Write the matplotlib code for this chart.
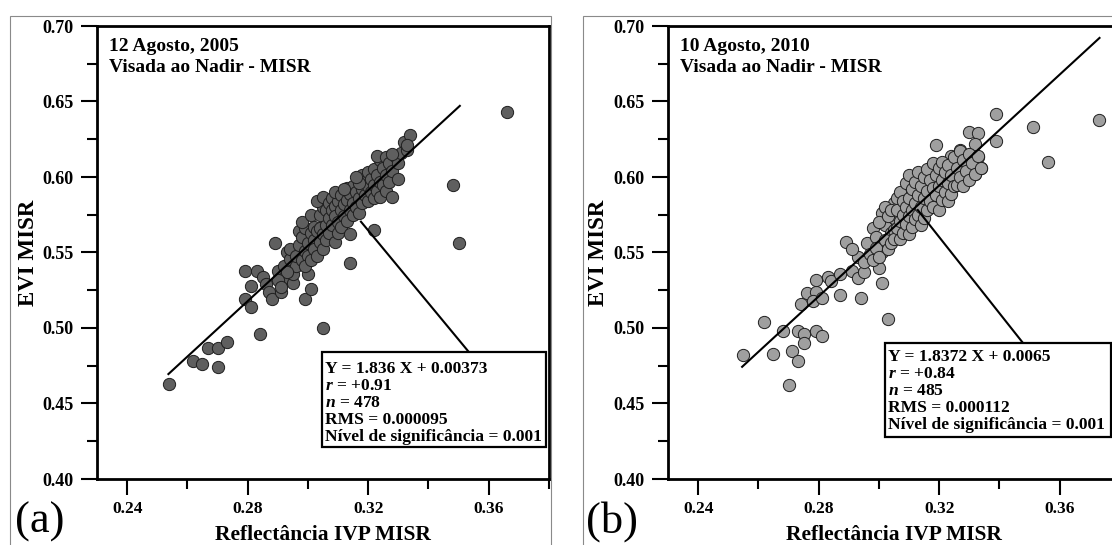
import matplotlib.pyplot as plt
from matplotlib.patches import Rectangle

W, H = 1112, 545

# (a) 12 Agosto 2005
refl_a = [0.254, 0.262, 0.265, 0.267, 0.270, 0.270, 0.273, 0.284, 0.279, 0.283,
          0.281, 0.279, 0.281, 0.285, 0.286, 0.287, 0.288, 0.289, 0.305, 0.314,
          0.322, 0.348, 0.350, 0.366, 0.299, 0.301, 0.300,
          0.290, 0.291, 0.291, 0.292, 0.293, 0.292, 0.294, 0.295, 0.295, 0.294,
          0.296, 0.296, 0.293, 0.290, 0.291,
          0.297, 0.297, 0.298, 0.298, 0.299, 0.299, 0.300, 0.300, 0.299, 0.301,
          0.301, 0.302, 0.298, 0.301,
          0.302, 0.302, 0.303, 0.303, 0.304, 0.304, 0.305, 0.305, 0.306, 0.306,
          0.304, 0.305, 0.303, 0.305,
          0.306, 0.307, 0.307, 0.307, 0.308, 0.308, 0.308, 0.309, 0.309, 0.309,
          0.310, 0.310, 0.310, 0.309,
          0.311, 0.311, 0.311, 0.312, 0.312, 0.313, 0.313, 0.313, 0.314, 0.314,
          0.314, 0.315, 0.315, 0.315, 0.312,
          0.316, 0.316, 0.317, 0.317, 0.318, 0.318, 0.318, 0.319, 0.319, 0.320,
          0.320, 0.320, 0.317, 0.316,
          0.321, 0.321, 0.322, 0.322, 0.322, 0.323, 0.323, 0.324, 0.324, 0.324,
          0.325, 0.325, 0.323,
          0.326, 0.326, 0.326, 0.327, 0.327, 0.328, 0.328, 0.329, 0.330, 0.330,
          0.331, 0.328,
          0.332, 0.333, 0.334, 0.333]
evi_a = [0.463, 0.478, 0.476, 0.487, 0.487, 0.474, 0.491, 0.496, 0.538, 0.538,
         0.528, 0.519, 0.514, 0.534, 0.529, 0.524, 0.519, 0.556, 0.500, 0.543,
         0.565, 0.595, 0.556, 0.643, 0.519, 0.526, 0.536,
         0.538, 0.529, 0.524, 0.541, 0.550, 0.533, 0.546, 0.530, 0.536, 0.552,
         0.541, 0.548, 0.537, 0.532, 0.527,
         0.564, 0.555, 0.560, 0.545, 0.566, 0.551, 0.556, 0.548, 0.541, 0.563,
         0.545, 0.567, 0.570, 0.575,
         0.558, 0.552, 0.564, 0.548, 0.566, 0.557, 0.562, 0.552, 0.568, 0.558,
         0.575, 0.580, 0.584, 0.587,
         0.578, 0.583, 0.573, 0.563, 0.586, 0.578, 0.568, 0.581, 0.574, 0.557,
         0.584, 0.570, 0.563, 0.590,
         0.588, 0.578, 0.567, 0.582, 0.574, 0.593, 0.585, 0.571, 0.589, 0.578,
         0.562, 0.594, 0.583, 0.575, 0.592,
         0.590, 0.580, 0.586, 0.576, 0.601, 0.592, 0.583, 0.597, 0.588, 0.603,
         0.594, 0.584, 0.596, 0.600,
         0.599, 0.590, 0.605, 0.595, 0.586, 0.601, 0.591, 0.611, 0.597, 0.587,
         0.606, 0.595, 0.614,
         0.613, 0.601, 0.591, 0.609, 0.597, 0.604, 0.587, 0.614, 0.599, 0.609,
         0.616, 0.615,
         0.623, 0.618, 0.628, 0.621]

# (b) 10 Agosto 2010
refl_b = [0.255, 0.262, 0.265, 0.268, 0.270, 0.271, 0.273, 0.273, 0.275, 0.275,
          0.279, 0.281, 0.274, 0.276, 0.279, 0.279, 0.278, 0.281, 0.283, 0.284,
          0.287, 0.287, 0.289, 0.291, 0.294, 0.293, 0.293, 0.295, 0.291, 0.296,
          0.295, 0.298, 0.299, 0.300, 0.301, 0.303, 0.301, 0.301, 0.302, 0.304,
          0.305, 0.305, 0.319, 0.339, 0.339, 0.351, 0.356, 0.373, 0.330, 0.333,
          0.332, 0.334, 0.332, 0.333, 0.327, 0.324,
          0.297, 0.298, 0.299, 0.300, 0.300, 0.302, 0.302, 0.303, 0.303, 0.304,
          0.304, 0.305, 0.305, 0.306, 0.306, 0.306, 0.307, 0.307, 0.307, 0.308,
          0.308, 0.308, 0.309, 0.309, 0.309, 0.310, 0.310, 0.310, 0.310, 0.311,
          0.311, 0.311, 0.312, 0.312, 0.312, 0.313, 0.313, 0.313, 0.314, 0.314,
          0.314, 0.315, 0.315, 0.315, 0.316, 0.316, 0.316, 0.317, 0.317, 0.318,
          0.318, 0.318, 0.319, 0.319, 0.320, 0.320, 0.320, 0.321, 0.321, 0.321,
          0.322, 0.322, 0.323, 0.323, 0.323, 0.324, 0.324, 0.325, 0.325, 0.326,
          0.326, 0.327, 0.327, 0.328, 0.328, 0.329, 0.330, 0.330, 0.331, 0.332,
          0.333, 0.334]
evi_b = [0.482, 0.504, 0.483, 0.498, 0.462, 0.485, 0.478, 0.498, 0.496, 0.490,
         0.498, 0.495, 0.516, 0.523, 0.524, 0.532, 0.518, 0.520, 0.534, 0.531,
         0.522, 0.536, 0.557, 0.538, 0.520, 0.547, 0.533, 0.537, 0.552, 0.556,
         0.544, 0.566, 0.560, 0.540, 0.530, 0.506, 0.550, 0.576, 0.568, 0.563,
         0.583, 0.573, 0.621, 0.642, 0.624, 0.633, 0.610, 0.638, 0.630, 0.629,
         0.622, 0.606, 0.602, 0.613, 0.618, 0.614,
         0.549, 0.545, 0.553, 0.570, 0.547, 0.558, 0.580, 0.552, 0.574, 0.556,
         0.578, 0.565, 0.559, 0.586, 0.578, 0.566, 0.590, 0.571, 0.559, 0.584,
         0.575, 0.563, 0.596, 0.580, 0.569, 0.601, 0.586, 0.574, 0.562, 0.592,
         0.578, 0.567, 0.597, 0.583, 0.572, 0.603, 0.588, 0.575, 0.594, 0.580,
         0.568, 0.600, 0.586, 0.573, 0.605, 0.591, 0.578, 0.598, 0.584, 0.609,
         0.593, 0.580, 0.601, 0.588, 0.606, 0.594, 0.578, 0.610, 0.598, 0.585,
         0.603, 0.590, 0.608, 0.596, 0.584, 0.601, 0.589, 0.613, 0.594, 0.606,
         0.595, 0.617, 0.600, 0.611, 0.594, 0.604, 0.615, 0.598, 0.609, 0.602,
         0.614, 0.606]

# regression lines (end points) and leader lines
fit_a_x, fit_a_y = [0.2537, 0.3504], [0.4695, 0.6471]
fit_b_x, fit_b_y = [0.2546, 0.3732], [0.4743, 0.6921]
lead_a_x, lead_a_y = [0.3176, 0.3534], [0.5704, 0.4841]
lead_b_x, lead_b_y = [0.3129, 0.3478], [0.5781, 0.4901]

stats_a = ['Y = 1.836 X + 0.00373', r'$\mathit{r}$ = +0.91', r'$\mathit{n}$ = 478',
           'RMS = 0.000095', 'Nível de significância = 0.001']
stats_b = ['Y = 1.8372 X + 0.0065', r'$\mathit{r}$ = +0.84', r'$\mathit{n}$ = 485',
           'RMS = 0.000112', 'Nível de significância = 0.001']

plt.rcParams['font.family'] = 'Liberation Serif'
plt.rcParams['font.weight'] = 'bold'
plt.rcParams['mathtext.fontset'] = 'custom'
plt.rcParams['mathtext.it'] = 'Liberation Serif:italic:bold'
plt.rcParams['mathtext.rm'] = 'Liberation Serif:bold'

fig = plt.figure(figsize=(W / 100, H / 100), dpi=100)

panels = [
    dict(left=97, frame=10, x=refl_a, y=evi_a, color='#5f5f5f', fit=(fit_a_x, fit_a_y),
         lead=(lead_a_x, lead_a_y), box=(0.3046, 0.4212, 0.3789, 0.4841), first=21,
         stats=stats_a, date='12 Agosto, 2005', tag='(a)'),
    dict(left=668, frame=583, x=refl_b, y=evi_b, color='#9f9f9f', fit=(fit_b_x, fit_b_y),
         lead=(lead_b_x, lead_b_y), box=(0.3020, 0.4278, 0.3769, 0.4901), first=18,
         stats=stats_b, date='10 Agosto, 2010', tag='(b)'),
]

for p in panels:
    L = p['left']
    # thin outer frame of each panel
    fig.patches.append(Rectangle((p['frame'] / W, -0.05), 541 / W, 1.05 - 16 / H,
                                 transform=fig.transFigure, fill=False,
                                 ec='#8a8a8a', lw=0.8))

    ax = fig.add_axes([L / W, 66 / H, 452 / W, 453 / H])
    ax.scatter(p['x'], p['y'], s=78, c=p['color'], edgecolors='#1e1e1e',
               linewidths=0.7, zorder=2)
    ax.plot(*p['fit'], color='black', lw=1.5, zorder=3)
    ax.plot(*p['lead'], color='black', lw=1.5, zorder=3)

    x0, y0, x1, y1 = p['box']
    ax.add_patch(Rectangle((x0, y0), x1 - x0, y1 - y0, fc='white', ec='black',
                           lw=1.6, zorder=4))
    for i, line in enumerate(p['stats']):
        ax.annotate(line, xy=(x0, y1), xytext=(3, -(p['first'] + 17 * i)),
                    textcoords='offset pixels', va='baseline', fontsize=12.6,
                    zorder=5)

    ax.text(0.027, 0.945, p['date'], transform=ax.transAxes, va='baseline',
            fontsize=14)
    ax.text(0.027, 0.898, 'Visada ao Nadir - MISR', transform=ax.transAxes,
            va='baseline', fontsize=14)

    ax.set_xlim(0.23, 0.38)
    ax.set_ylim(0.40, 0.70)
    ax.set_xticks([0.24, 0.28, 0.32, 0.36])
    ax.set_xticks([0.26, 0.30, 0.34, 0.38], minor=True)
    ax.set_yticks([0.40, 0.45, 0.50, 0.55, 0.60, 0.65, 0.70])
    ax.set_yticks([0.425, 0.475, 0.525, 0.575, 0.625, 0.675], minor=True)
    ax.xaxis.set_major_formatter('{x:.2f}')
    ax.yaxis.set_major_formatter('{x:.2f}')
    ax.tick_params(which='major', direction='out', length=11.5, width=1.5,
                   labelsize=13)
    ax.tick_params(which='minor', direction='out', length=7, width=1.5)
    ax.tick_params(axis='x', which='major', pad=4.5, labelsize=12.5)
    ax.tick_params(axis='y', which='major', pad=5.5)
    for s in ax.spines.values():
        s.set_linewidth(2)

    fig.text((L + 226) / W, 1 - 540.3 / H, 'Reflectância IVP MISR', ha='center',
             va='baseline', fontsize=15.5)
    fig.text((L - 63.5) / W, 1 - 252.5 / H, 'EVI MISR', rotation=90,
             rotation_mode='anchor', ha='center', va='baseline', fontsize=16.5)
    fig.text((L - 82) / W, 1 - 533 / H, p['tag'], fontsize=32,
             fontweight='normal', va='baseline')

fig.savefig('out.png', dpi=100)
